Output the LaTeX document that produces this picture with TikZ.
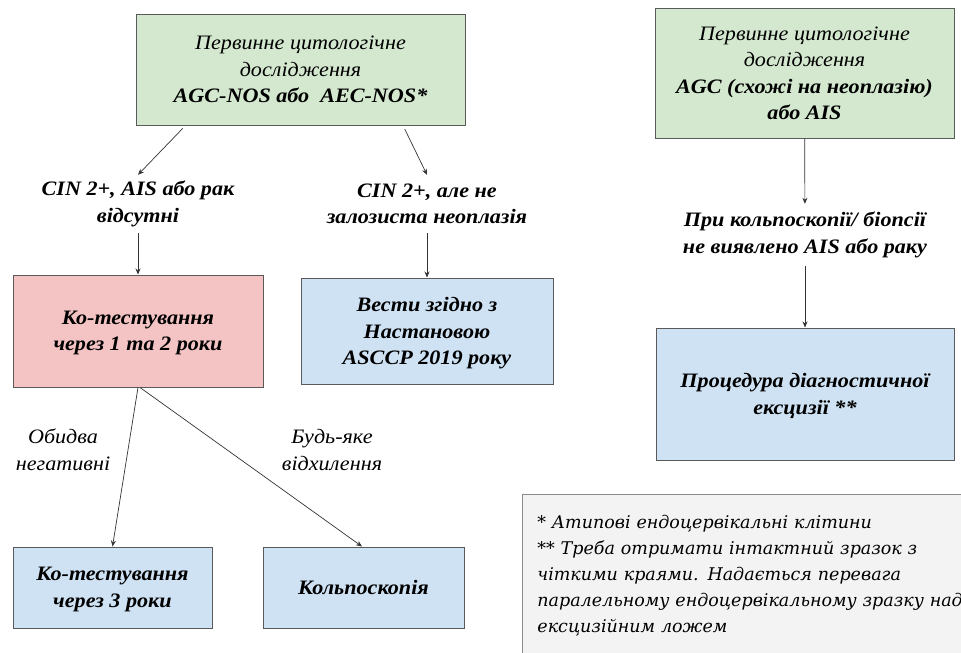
\documentclass[tikz,border=0pt]{standalone}
\usepackage{fontspec}
\setmainfont{Liberation Serif}[FakeStretch=1.08]
\newfontfamily\notefont{DejaVu Serif}
\usetikzlibrary{arrows.meta,shadows}

\definecolor{boxgreen}{HTML}{D4E8CF}
\definecolor{boxpink}{HTML}{F4C4C4}
\definecolor{boxblue}{HTML}{CFE2F3}
\definecolor{boxedge}{HTML}{5A5A5A}
\definecolor{notefill}{HTML}{F3F3F3}
\definecolor{noteedge}{HTML}{8A8A8A}

\newcommand{\mainsize}{\fontsize{20.5}{26.5}\selectfont}

\tikzset{
  flowbox/.style={draw=boxedge, line width=1pt, align=center, inner sep=2pt,
    font=\mainsize\itshape,
    drop shadow={shadow xshift=1pt, shadow yshift=-1.2pt, opacity=.35, fill=black}},
  greenbox/.style={flowbox, fill=boxgreen, text depth=0pt},
  pinkbox/.style={flowbox, fill=boxpink, text depth=-3pt, font=\mainsize\bfseries\itshape},
  bluebox/.style={flowbox, fill=boxblue, text depth=-3pt, font=\mainsize\bfseries\itshape},
  cond/.style={align=center, inner sep=0pt, minimum height=58pt, font=\mainsize\bfseries\itshape},
  branch/.style={align=center, inner sep=0pt, font=\mainsize\itshape},
  notebox/.style={draw=noteedge, line width=0.8pt, fill=notefill, align=left,
    text width=460pt, inner xsep=15pt, inner ysep=21pt, text depth=150pt,
    font=\notefont\itshape\fontsize{17.5}{26}\selectfont},
  conn/.style={draw=black!80, line width=0.7pt, -{Stealth[length=6pt,width=5pt]}}
}

\begin{document}
\begin{tikzpicture}[x=1pt,y=-1pt]
\useasboundingbox (0,0) rectangle (961,653);
\clip (0,0) rectangle (961,653);

% left branch: AGC-NOS / AEC-NOS
\node[greenbox, minimum width=329pt, minimum height=111pt] (tl) at (300.5,69.5)
  {Первинне цитологічне\\дослідження\\\textbf{AGC-NOS або\ \ AEC-NOS*}};
\node[cond] (c1) at (138,204) {CIN 2+, AIS або рак\\відсутні};
\node[cond] (c2) at (427,204) {CIN 2+, але не\\залозиста неоплазія};
\node[pinkbox, minimum width=250pt, minimum height=112pt] (cot12) at (138,331)
  {Ко-тестування\\через 1 та 2 роки};
\node[bluebox, minimum width=252pt, minimum height=106pt] (ascc) at (427,331)
  {Вести згідно з\\Настановою\\ASCCP 2019 року};
\node[branch] (neg) at (63,450) {Обидва\\негативні};
\node[branch] (abn) at (332,450) {Будь-яке\\відхилення};
\node[bluebox, minimum width=199pt, minimum height=81pt] (cot3) at (112.5,587.5)
  {Ко-тестування\\через 3 роки};
\node[bluebox, minimum width=201pt, minimum height=81pt] (colpo) at (363.5,587.5)
  {Кольпоскопія};

% right branch: AGC (favor neoplasia) / AIS
\node[greenbox, minimum width=299pt, minimum height=130pt] (tr) at (804.5,73)
  {Первинне цитологічне\\дослідження\\\textbf{AGC (схожі на неоплазію)}\\\textbf{або AIS}};
\node[cond, minimum height=62pt] (c3) at (805,235) {При кольпоскопії/ біопсії\\не виявлено AIS або раку};
\node[bluebox, minimum width=298pt, minimum height=132pt] (exc) at (805,394)
  {Процедура діагностичної\\ексцизії **};

% footnotes
\node[notebox, anchor=north west] (notes) at (522,494)
  {* Атипові ендоцервікальні клітини\\{}%
   ** Треба отримати інтактний зразок з\\{}%
   чіткими краями. Надається перевага\\{}%
   паралельному ендоцервікальному зразку над\\{}%
   ексцизійним ложем};

% connectors
\draw[conn, shorten <=4pt] ([xshift=-115pt]tl.south) -- (c1.north);
\draw[conn, shorten <=4pt] ([xshift=102.5pt]tl.south) -- (c2.north);
\draw[conn] (c1) -- (cot12);
\draw[conn] (c2) -- (ascc);
\draw[conn] (cot12.south) -- (cot3.north);
\draw[conn] ([xshift=2pt]cot12.south) -- ([xshift=-1.5pt]colpo.north);
\draw[conn] (tr) -- (c3);
\draw[conn] (c3) -- (exc);
\end{tikzpicture}
\end{document}
